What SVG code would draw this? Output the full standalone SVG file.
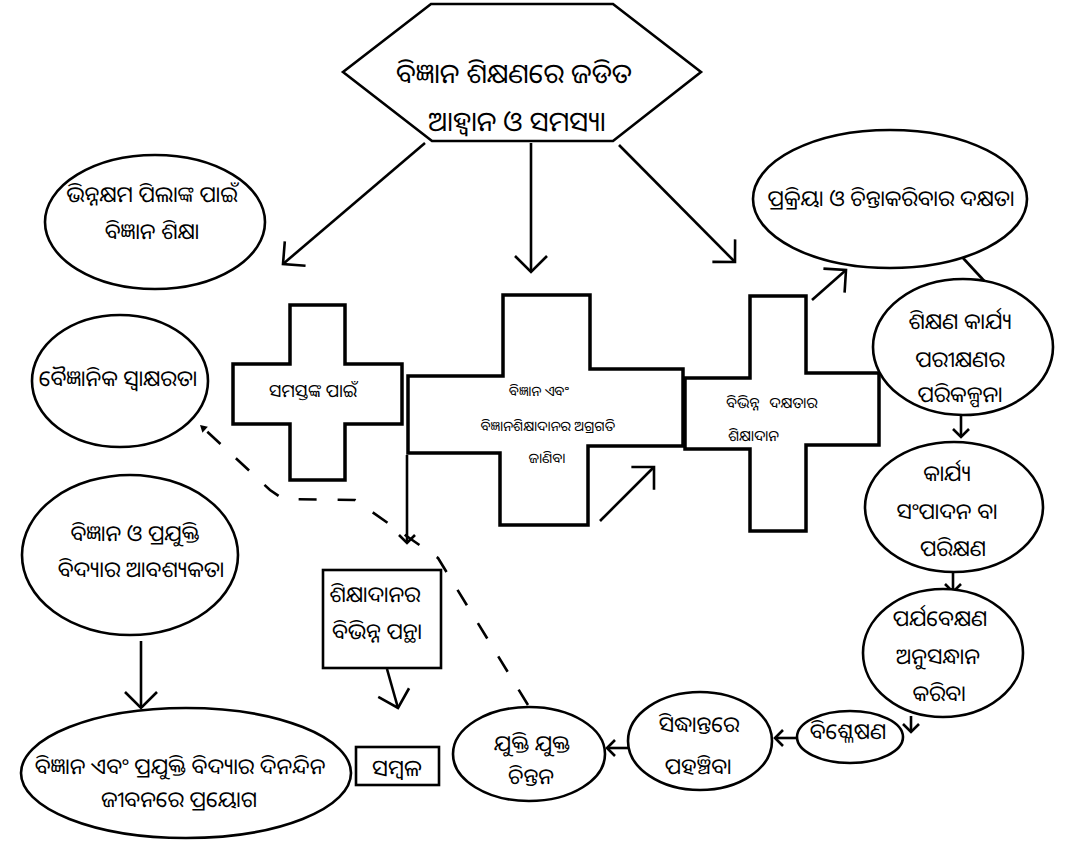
<svg xmlns="http://www.w3.org/2000/svg" width="1071" height="843" viewBox="0 0 1071 843">
<style>
.s{fill:#fff;stroke:#000;stroke-width:2.6}
.x{fill:#fff;stroke:#000;stroke-width:3.5}
.t{font-family:"Noto Sans Oriya","Noto Sans Odia","Lohit Odia","Noto Sans",sans-serif;fill:#000;text-anchor:middle;dominant-baseline:central;font-size:22px}
.c{fill:none;stroke:#000;stroke-width:2.6}
.d{fill:none;stroke:#000;stroke-width:2.6;stroke-dasharray:18 21}
</style>
<defs>
<marker id="big" viewBox="-22 -22 44 44" refX="0" refY="0" markerWidth="44" markerHeight="44" markerUnits="userSpaceOnUse" orient="auto">
<path d="M-16,-16 L0,0 L-16,16" fill="none" stroke="#000" stroke-width="2.6"/>
</marker>
<marker id="sm" viewBox="-12 -12 24 24" refX="0" refY="0" markerWidth="24" markerHeight="24" markerUnits="userSpaceOnUse" orient="auto">
<path d="M-8,-8 L0,0 L-8,8" fill="none" stroke="#000" stroke-width="2.6"/>
</marker>
<marker id="fill" viewBox="-8 -8 16 16" refX="0" refY="0" markerWidth="16" markerHeight="16" markerUnits="userSpaceOnUse" orient="auto">
<path d="M-7,-4 L0,0 L-7,4 Z" fill="#000"/>
</marker>
</defs>
<rect width="1071" height="843" fill="#fff"/>
<g id="connectors">
<path class="c" d="M425,143 L283,264" marker-end="url(#big)"/>
<path class="c" d="M531,143 L531,272" marker-end="url(#big)"/>
<path class="c" d="M619,145 L735,262" marker-end="url(#big)"/>
<path class="c" d="M407,455 L407,543" marker-end="url(#sm)"/>
<path class="c" d="M600,521 L654,467" marker-end="url(#big)"/>
<path class="c" d="M812,300 L846,270" marker-end="url(#big)"/>
<path class="c" d="M963,258 L988,285"/>
<path class="c" d="M961,416 L961,437" marker-end="url(#sm)"/>
<path class="c" d="M953,572 L953,592" marker-end="url(#sm)"/>
<path class="c" d="M911,716 L911,732" marker-end="url(#sm)"/>
<path class="c" d="M797,738 L775,738" marker-end="url(#sm)"/>
<path class="c" d="M630,748 L607,748" marker-end="url(#sm)"/>
<path class="c" d="M141,641 L141,708" marker-end="url(#big)"/>
<path class="c" d="M387,669 L398,708" marker-end="url(#big)"/>
<path class="d" d="M528,705 L438,558 L355,500 L283,499 L270,490 L200,425" marker-end="url(#fill)"/>
</g>
<g id="hexagon">
<polygon class="s" points="431,4 613,4 701,72 613,141 432,141 343,72"/>
<text class="t" x="514" y="72" style="font-size:27.5px">ବିଜ୍ଞାନ ଶିକ୍ଷଣରେ ଜଡିତ</text>
<text class="t" x="517" y="120" style="font-size:27.5px">ଆହ୍ୱାନ ଓ ସମସ୍ୟା</text>
</g>
<g id="n-bhinnakshama">
<ellipse class="s" cx="155" cy="222" rx="110" ry="67"/>
<text class="t" x="152" y="193">ଭିନ୍ନକ୍ଷମ ପିଲାଙ୍କ ପାଇଁ</text>
<text class="t" x="152" y="230">ବିଜ୍ଞାନ ଶିକ୍ଷା</text>
</g>
<g id="n-prakriya">
<ellipse class="s" cx="890" cy="199" rx="137" ry="69"/>
<text class="t" x="891" y="197">ପ୍ରକ୍ରିୟା ଓ ଚିନ୍ତାକରିବାର ଦକ୍ଷତା</text>
</g>
<g id="n-vaigyanika">
<ellipse class="s" cx="120" cy="381" rx="88" ry="66"/>
<text class="t" x="118" y="377">ବୈଜ୍ଞାନିକ ସ୍ୱାକ୍ଷରତା</text>
</g>
<g id="n-samastanka">
<polygon class="x" points="290,305 345,305 345,364 402,364 402,424 345,424 345,480 290,480 290,424 233,424 233,364 290,364"/>
<text class="t" x="313" y="390" style="font-size:18px">ସମସ୍ତଙ୍କ ପାଇଁ</text>
</g>
<g id="n-agragati">
<polygon class="x" points="503,295 590,295 590,369 683,369 683,446 588,446 588,525 500,525 500,453 408,453 408,376 503,376"/>
<text class="t" x="539" y="390" style="font-size:14px">ବିଜ୍ଞାନ  ଏବଂ</text>
<text class="t" x="548" y="425" style="font-size:14px">ବିଜ୍ଞାନଶିକ୍ଷାଦାନର ଅଗ୍ରଗତି</text>
<text class="t" x="547" y="457" style="font-size:14px">ଜାଣିବା</text>
</g>
<g id="n-dakshata">
<polygon class="x" points="750,296 806,296 806,373 879,373 879,445 806,445 806,531 750,531 750,449 685,449 685,378 750,378"/>
<text class="t" x="726" y="402" style="font-size:15px;text-anchor:start;word-spacing:6px">ବିଭିନ୍ନ ଦକ୍ଷତାର</text>
<text class="t" x="728" y="435" style="font-size:15px;text-anchor:start">ଶିକ୍ଷାଦାନ</text>
</g>
<g id="n-parikalpana">
<ellipse class="s" cx="963" cy="347" rx="90" ry="68"/>
<text class="t" x="960" y="320">ଶିକ୍ଷଣ କାର୍ଯ୍ୟ</text>
<text class="t" x="960" y="358">ପରୀକ୍ଷଣର</text>
<text class="t" x="960" y="393">ପରିକଳ୍ପନା</text>
</g>
<g id="n-sampadana">
<ellipse class="s" cx="954" cy="507" rx="89" ry="65"/>
<text class="t" x="947" y="472">କାର୍ଯ୍ୟ</text>
<text class="t" x="947" y="510">ସଂପାଦନ ବା</text>
<text class="t" x="953" y="547">ପରିକ୍ଷଣ</text>
</g>
<g id="n-paryabekshana">
<ellipse class="s" cx="943" cy="653" rx="80" ry="64"/>
<text class="t" x="940" y="617">ପର୍ଯବେକ୍ଷଣ</text>
<text class="t" x="938" y="655">ଅନୁସନ୍ଧାନ</text>
<text class="t" x="939" y="692">କରିବା</text>
</g>
<g id="n-bishleshana">
<ellipse class="s" cx="850" cy="737" rx="53" ry="26"/>
<text class="t" x="848" y="730">ବିଶ୍ଳେଷଣ</text>
</g>
<g id="n-siddhanta">
<ellipse class="s" cx="700" cy="741" rx="72" ry="49"/>
<text class="t" x="699" y="723">ସିଦ୍ଧାନ୍ତରେ</text>
<text class="t" x="698" y="765">ପହଞ୍ଚିବା</text>
</g>
<g id="n-yukti">
<ellipse class="s" cx="529" cy="754" rx="76" ry="47"/>
<text class="t" x="532" y="742">ଯୁକ୍ତି ଯୁକ୍ତ</text>
<text class="t" x="531" y="775">ଚିନ୍ତନ</text>
</g>
<g id="n-prayoga">
<ellipse class="s" cx="186" cy="773" rx="165" ry="65"/>
<text class="t" x="180" y="765">ବିଜ୍ଞାନ ଏବଂ ପ୍ରଯୁକ୍ତି ବିଦ୍ୟାର ଦିନନ୍ଦିନ</text>
<text class="t" x="179" y="798">ଜୀବନରେ ପ୍ରୟୋଗ</text>
</g>
<g id="n-sambala">
<rect class="s" x="356" y="747" width="83" height="38"/>
<text class="t" x="397" y="767" style="font-size:23px">ସମ୍ବଳ</text>
</g>
<g id="n-pantha">
<rect class="s" x="323" y="570" width="118" height="98"/>
<text class="t" x="375" y="593">ଶିକ୍ଷାଦାନର</text>
<text class="t" x="377" y="630">ବିଭିନ୍ନ ପନ୍ଥା</text>
</g>
<g id="n-abashyakata">
<ellipse class="s" cx="130" cy="555" rx="108" ry="80"/>
<text class="t" x="135" y="532">ବିଜ୍ଞାନ ଓ ପ୍ରଯୁକ୍ତି</text>
<text class="t" x="141" y="568">ବିଦ୍ୟାର ଆବଶ୍ୟକତା</text>
</g>
</svg>
